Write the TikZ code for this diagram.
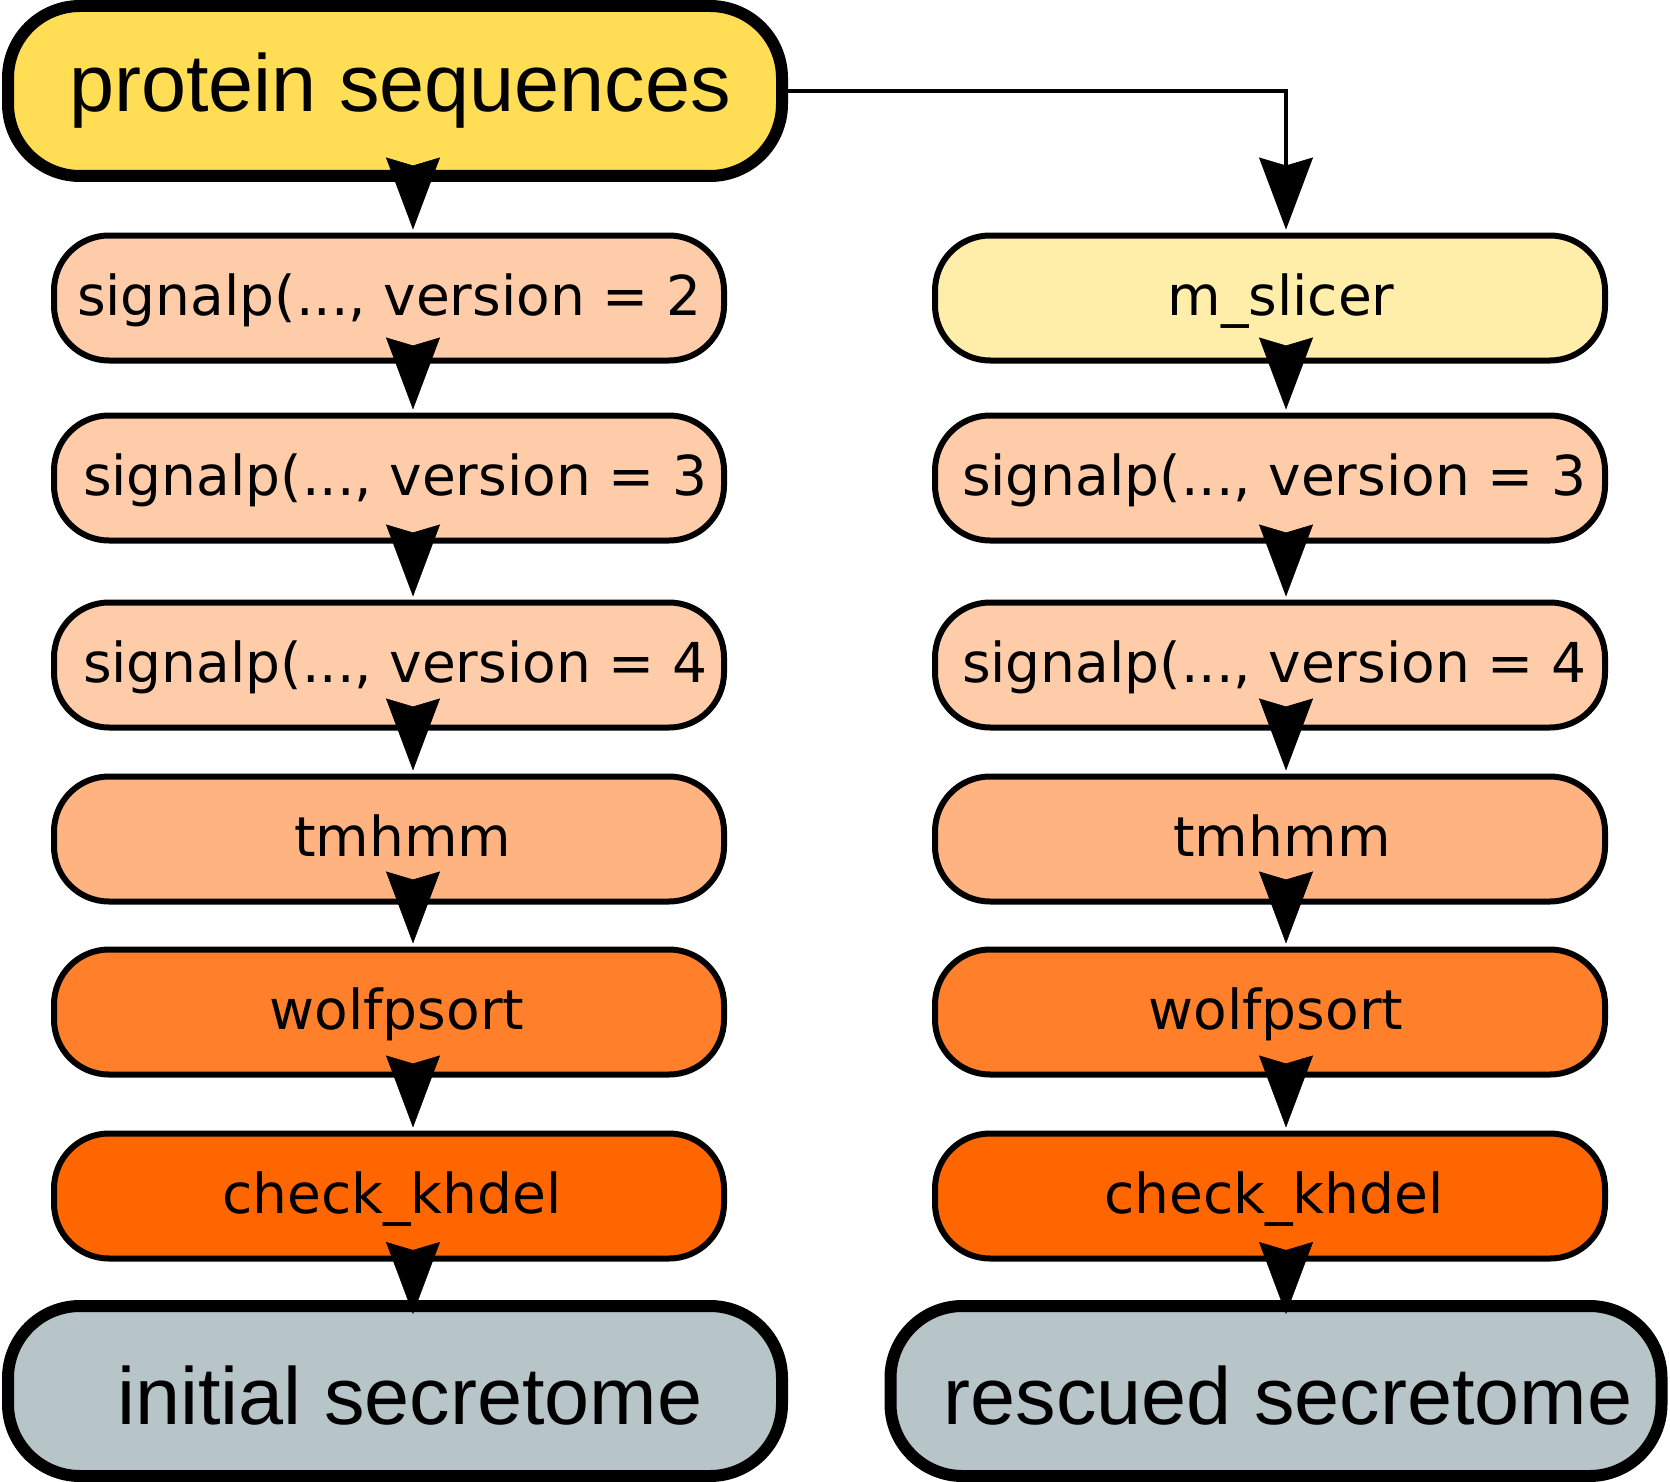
\documentclass[tikz,border=0pt]{standalone}
\usepackage{fontspec}
\usetikzlibrary{arrows.meta}
\newfontfamily\dejavu{DejaVu Sans}
\newfontfamily\libsans{Liberation Sans}
\definecolor{cTop}{HTML}{FFDD55}
\definecolor{cSlice}{HTML}{FFEEAA}
\definecolor{cSig}{HTML}{FFCCAA}
\definecolor{cTm}{HTML}{FFB380}
\definecolor{cWolf}{HTML}{FF7F2A}
\definecolor{cCheck}{HTML}{FF6600}
\definecolor{cEnd}{HTML}{B7C4C8}
\newcommand\txsh[1]{\hspace*{#1pt}}
\tikzset{
  box/.style={draw=black, line width=6pt, rounded corners=55pt,
    minimum width=670pt, minimum height=125pt, inner sep=0pt,
    font=\dejavu\fontsize{55}{60}\selectfont, text height=40pt, text depth=6pt},
  bigbox/.style={draw=black, line width=12pt, rounded corners=72pt,
    minimum height=170pt, inner sep=0pt,
    font=\libsans\fontsize{81}{90}\selectfont},
  flow/.style={draw=black, line width=4.5pt,
    -{Stealth[length=72pt, width=54pt, inset=8pt, line width=0.5pt]}},
}
\begin{document}
\begin{tikzpicture}[x=1pt,y=-1pt]
\path[fill=white] (0,0) rectangle (1670,1482);
\useasboundingbox (0,0) rectangle (1670,1482);
\coordinate (xl) at (413,0);
\coordinate (xr) at (1286,0);
% top
\node[bigbox, fill=cTop, minimum width=774pt, text height=58pt, text depth=16pt] (top) at (395,91) {\txsh{10}protein sequences};
% left column
\node[box, fill=cSig]   (L1) at (389,298)  {signalp(..., version = 2};
\node[box, fill=cSig]   (L2) at (389,478)  {\txsh{12}signalp(..., version = 3};
\node[box, fill=cSig]   (L3) at (389,665)  {\txsh{12}signalp(..., version = 4};
\node[box, fill=cTm]    (L4) at (389,839)  {\txsh{28}tmhmm};
\node[box, fill=cWolf]  (L5) at (389,1012) {\txsh{16}wolfpsort};
\node[box, fill=cCheck] (L6) at (389,1196) {\txsh{6}check\_khdel};
\node[bigbox, fill=cEnd, minimum width=774pt, text height=66pt, text depth=0pt] (L7) at (395,1391) {\txsh{30}initial secretome};
% right column
\node[box, fill=cSlice] (R1) at (1270,298)  {\txsh{22}m\_slicer};
\node[box, fill=cSig]   (R2) at (1270,478)  {\txsh{8}signalp(..., version = 3};
\node[box, fill=cSig]   (R3) at (1270,665)  {\txsh{8}signalp(..., version = 4};
\node[box, fill=cTm]    (R4) at (1270,839)  {\txsh{24}tmhmm};
\node[box, fill=cWolf]  (R5) at (1270,1012) {\txsh{12}wolfpsort};
\node[box, fill=cCheck] (R6) at (1270,1196) {\txsh{8}check\_khdel};
\node[bigbox, fill=cEnd, minimum width=771pt, text height=66pt, text depth=0pt] (R7) at (1276,1391) {\txsh{24}rescued secretome};
% left connectors
\draw[flow] (top.south -| xl) -- ([yshift=3pt]L1.north -| xl);
\draw[flow] (L1.south -| xl) -- ([yshift=3pt]L2.north -| xl);
\draw[flow] (L2.south -| xl) -- ([yshift=3pt]L3.north -| xl);
\draw[flow] (L3.south -| xl) -- ([yshift=3pt]L4.north -| xl);
\draw[flow] (L4.south -| xl) -- ([yshift=3pt]L5.north -| xl);
\draw[flow] (L5.south -| xl) -- ([yshift=3pt]L6.north -| xl);
\draw[flow] (L6.south -| xl) -- ([yshift=-14pt]L7.north -| xl);
% right connectors
\draw[flow] (top.east) -| ([yshift=3pt]R1.north -| xr);
\draw[flow] (R1.south -| xr) -- ([yshift=3pt]R2.north -| xr);
\draw[flow] (R2.south -| xr) -- ([yshift=3pt]R3.north -| xr);
\draw[flow] (R3.south -| xr) -- ([yshift=3pt]R4.north -| xr);
\draw[flow] (R4.south -| xr) -- ([yshift=3pt]R5.north -| xr);
\draw[flow] (R5.south -| xr) -- ([yshift=3pt]R6.north -| xr);
\draw[flow] (R6.south -| xr) -- ([yshift=-14pt]R7.north -| xr);
\end{tikzpicture}
\end{document}
